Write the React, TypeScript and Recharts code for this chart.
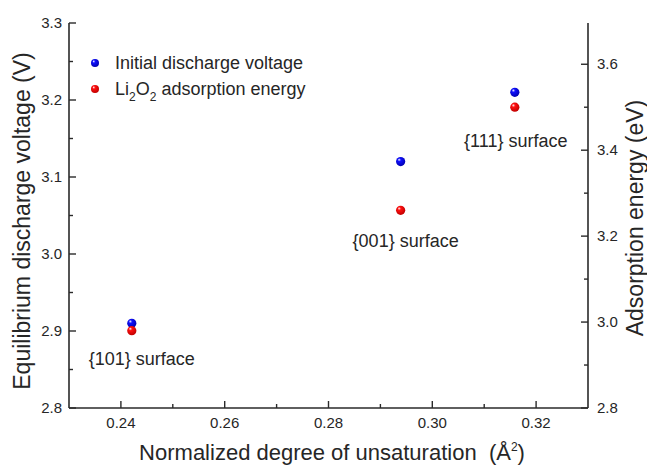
import React from "react";
import { ScatterChart, Scatter, XAxis, YAxis, Legend, Label } from "recharts";

// values
const xValues = [0.2421, 0.2939, 0.3159];
const dischargeVoltage = [2.91, 3.12, 3.21];
const adsorptionEnergy = [2.98, 3.26, 3.5];
const surfaceLabels = ["{101} surface", "{001} surface", "{111} surface"];

const xMajor = [0.24, 0.26, 0.28, 0.3, 0.32];
const xMinor = [0.25, 0.27, 0.29, 0.31];
const leftMajor = [2.8, 2.9, 3.0, 3.1, 3.2, 3.3];
const leftMinor = [2.85, 2.95, 3.05, 3.15, 3.25];
const rightMajor = [2.8, 3.0, 3.2, 3.4, 3.6];
const rightMinor = [2.9, 3.1, 3.3, 3.5];

const FONT = "'Liberation Sans', Arial, sans-serif";
const AXIS = "#2a2a2a";
const TEXT = "#262626";
const BLUE = "#1010ff";
const RED = "#ff1010";

// label placement relative to the red point (text centre)
const labelShift = [
  [10, 28],
  [5, 31],
  [1, 34],
];

function InTick(props: any) {
  const { x, y, payload, side, majors, digits } = props;
  const v = payload.value as number;
  const major = majors.some((m: number) => Math.abs(m - v) < 1e-6);
  const len = major ? 7 : 4;
  const txt = major ? v.toFixed(digits) : null;
  const common = { fontFamily: FONT, fontSize: 15, fill: TEXT };
  if (side === "bottom") {
    return (
      <g>
        <line x1={x} y1={y} x2={x} y2={y - len} stroke={AXIS} strokeWidth={1.4} />
        {txt && (
          <text x={x} y={y + 20} textAnchor="middle" {...common}>
            {txt}
          </text>
        )}
      </g>
    );
  }
  if (side === "left") {
    return (
      <g>
        <line x1={x} y1={y} x2={x + len} y2={y} stroke={AXIS} strokeWidth={1.4} />
        {txt && (
          <text x={x - 7} y={y + 5} textAnchor="end" {...common}>
            {txt}
          </text>
        )}
      </g>
    );
  }
  return (
    <g>
      <line x1={x} y1={y} x2={x - len} y2={y} stroke={AXIS} strokeWidth={1.4} />
      {txt && (
        <text x={x + 9} y={y + 5} textAnchor="start" {...common}>
          {txt}
        </text>
      )}
    </g>
  );
}

function BallDefs({ color, id }: { color: string; id: string }) {
  return (
    <defs>
      <radialGradient id={id} cx="45%" cy="40%" r="60%" fx="32%" fy="28%">
        <stop offset="0%" stopColor="#ffffff" />
        <stop offset="30%" stopColor={color} />
        <stop offset="100%" stopColor={color === BLUE ? "#0000b0" : "#c00000"} />
      </radialGradient>
    </defs>
  );
}

function makeBall(color: string, id: string, withLabel: boolean) {
  return (props: any) => {
    const { cx, cy, payload } = props;
    const i = withLabel ? surfaceLabels.indexOf(payload.label) : -1;
    return (
      <g>
        <BallDefs color={color} id={id} />
        <circle cx={cx} cy={cy} r={4.6} fill={`url(#${id})`} />
        {i >= 0 && (
          <text
            x={cx + labelShift[i][0]}
            y={cy + labelShift[i][1] + 6}
            textAnchor="middle"
            fontFamily={FONT}
            fontSize={18}
            fill={TEXT}
          >
            {payload.label}
          </text>
        )}
      </g>
    );
  };
}

function LegendDot({ color, id }: { color: string; id: string }) {
  return (
    <svg width={14} height={12} style={{ marginRight: 13, flex: "none" }}>
      <BallDefs color={color} id={id} />
      <circle cx={7} cy={6} r={4} fill={`url(#${id})`} />
    </svg>
  );
}

function LegendContent() {
  const row: React.CSSProperties = { display: "flex", alignItems: "center", height: 26, whiteSpace: "nowrap" };
  const sub: React.CSSProperties = { fontSize: 12, verticalAlign: "-6px", lineHeight: 0 };
  return (
    <div style={{ fontFamily: FONT, fontSize: 18, color: TEXT }}>
      <div style={row}>
        <LegendDot color={BLUE} id="lg-blue" />
        Initial discharge voltage
      </div>
      <div style={row}>
        <LegendDot color={RED} id="lg-red" />
        <span>
          Li<sub style={sub}>2</sub>O<sub style={sub}>2</sub> adsorption energy
        </span>
      </div>
    </div>
  );
}

export default function App() {
  const voltageData = xValues.map((x, i) => ({ x, y: dischargeVoltage[i] }));
  const energyData = xValues.map((x, i) => ({ x, y: adsorptionEnergy[i], label: surfaceLabels[i] }));

  return (
    <div style={{ position: "absolute", left: 0, top: 0, width: 647, height: 465, background: "#fff" }}>
      <ScatterChart width={647} height={465} margin={{ top: 23, right: 0, bottom: 0, left: 0 }}>
        <XAxis
          dataKey="x"
          type="number"
          domain={[0.23, 0.33]}
          ticks={[...xMajor, ...xMinor].sort()}
          interval={0}
          height={57}
          tickSize={0}
          tickMargin={0}
          tickLine={false}
          axisLine={{ stroke: AXIS, strokeWidth: 1.6 }}
          tick={<InTick side="bottom" majors={xMajor} digits={2} />}
        >
          <Label
            content={() => (
              <text x={332} y={460} textAnchor="middle" fontFamily={FONT} fontSize={22} fill={TEXT}>
                Normalized degree of unsaturation{"\u00a0\u00a0"}(Å<tspan fontSize={12} dy={-9}>2</tspan>
                <tspan dy={9}>)</tspan>
              </text>
            )}
          />
        </XAxis>
        <XAxis
          xAxisId="top"
          orientation="top"
          type="number"
          domain={[0.23, 0.33]}
          height={0}
          tick={false}
          tickLine={false}
          axisLine={{ stroke: AXIS, strokeWidth: 1.6 }}
        />
        <YAxis
          yAxisId="left"
          dataKey="y"
          type="number"
          domain={[2.8, 3.3]}
          ticks={[...leftMajor, ...leftMinor]}
          interval={0}
          width={69}
          tickSize={0}
          tickMargin={0}
          tickLine={false}
          axisLine={{ stroke: AXIS, strokeWidth: 1.6 }}
          tick={<InTick side="left" majors={leftMajor} digits={1} />}
        >
          <Label
            content={() => (
              <text
                x={22}
                y={221}
                transform="rotate(-90 22 221)"
                textAnchor="middle"
                dominantBaseline="central"
                fontFamily={FONT}
                fontSize={23}
                fill={TEXT}
              >
                Equilibrium discharge voltage (V)
              </text>
            )}
          />
        </YAxis>
        <YAxis
          yAxisId="right"
          orientation="right"
          dataKey="y"
          type="number"
          domain={[2.8, 3.696]}
          allowDataOverflow
          ticks={[...rightMajor, ...rightMinor]}
          interval={0}
          width={59}
          tickSize={0}
          tickMargin={0}
          tickLine={false}
          axisLine={{ stroke: AXIS, strokeWidth: 1.6 }}
          tick={<InTick side="right" majors={rightMajor} digits={1} />}
        >
          <Label
            content={() => (
              <text
                x={635}
                y={218}
                transform="rotate(-90 635 218)"
                textAnchor="middle"
                dominantBaseline="central"
                fontFamily={FONT}
                fontSize={23}
                fill={TEXT}
              >
                Adsorption energy (eV)
              </text>
            )}
          />
        </YAxis>
        <Legend
          layout="vertical"
          align="center"
          verticalAlign="middle"
          wrapperStyle={{ left: 88, top: 50, width: 300, height: 52 }}
          content={() => <LegendContent />}
        />
        <Scatter
          name="Initial discharge voltage"
          yAxisId="left"
          data={voltageData}
          shape={makeBall(BLUE, "ball-blue", false)}
          isAnimationActive={false}
        />
        <Scatter
          name="Li2O2 adsorption energy"
          yAxisId="right"
          data={energyData}
          shape={makeBall(RED, "ball-red", true)}
          isAnimationActive={false}
        />
      </ScatterChart>
    </div>
  );
}
